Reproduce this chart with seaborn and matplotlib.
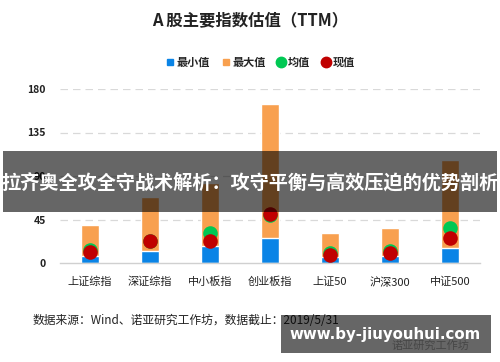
import matplotlib
matplotlib.use("Agg")
import matplotlib.pyplot as plt
import seaborn as sns
import pandas as pd
from matplotlib.lines import Line2D
from matplotlib.patches import Rectangle

categories = ["上证综指", "深证综指", "中小板指", "创业板指", "上证50", "沪深300", "中证500"]
min_vals = [7.5, 12.4, 17.6, 26.0, 6.5, 7.5, 15.2]
max_vals = [39.3, 68.0, 82.7, 164.4, 30.7, 35.8, 106.5]
mean_vals = [13.5, 23.0, 31.0, 50.0, 10.0, 12.0, 36.5]
now_vals = [11.5, 22.7, 22.7, 51.0, 8.0, 10.7, 25.5]
yticks = [0, 45, 90, 135, 180]

title = "A 股主要指数估值（TTM）"
source = "数据来源：Wind、诺亚研究工作坊，数据截止：2019/5/31"
banner = "拉齐奥全攻全守战术解析：攻守平衡与高效压迫的优势剖析"
watermark = "www.by-jiuyouhui.com"
logo = "诺亚研究工作坊"

C_MIN = "#0a84e6"
C_MAX = "#f8a04f"
C_MEAN = "#00c853"
C_NOW = "#c00000"

sns.set_theme(style="white")
plt.rcParams["font.family"] = ["Noto Sans CJK SC", "DejaVu Sans"]

df = pd.DataFrame({"cat": categories, "min": min_vals, "max": max_vals,
                   "mean": mean_vals, "now": now_vals})

fig = plt.figure(figsize=(5, 3.62), dpi=100)
ax = fig.add_axes([0.12, 1 - 263 / 362, 0.84, (263 - 89) / 362])

sns.barplot(data=df, x="cat", y="max", order=categories, color=C_MAX,
            width=0.31, ax=ax, saturation=1)
sns.barplot(data=df, x="cat", y="min", order=categories, color=C_MIN,
            width=0.31, ax=ax, saturation=1)
sns.scatterplot(data=df, x="cat", y="mean", color=C_MEAN, s=110,
                linewidth=0, ax=ax, zorder=4)
sns.scatterplot(data=df, x="cat", y="now", color=C_NOW, s=110,
                linewidth=0, ax=ax, zorder=5)

ax.set_ylim(0, 180)
ax.set_xlim(-0.5, len(categories) - 0.5)
ax.set_yticks(yticks)
ax.set_yticklabels([str(v) for v in yticks], fontsize=7.5, fontweight="bold",
                   color="#222222")
ax.set_xticks(range(len(categories)))
ax.set_xticklabels(categories, fontsize=8, color="#222222")
ax.set_xlabel("")
ax.set_ylabel("")
ax.tick_params(axis="both", length=0)
ax.tick_params(axis="y", pad=10)
ax.tick_params(axis="x", pad=10)
for v in yticks[1:]:
    ax.axhline(v, color="#d9d9d9", lw=0.9, ls=(0, (6, 4)), zorder=0)
for s in ["top", "right", "left"]:
    ax.spines[s].set_visible(False)
ax.spines["bottom"].set_color("#d0d0d0")
ax.spines["bottom"].set_linewidth(1)

fig.text(0.5, 1 - 20 / 362, title, ha="center", va="center", fontsize=11.8,
         color="#222222", fontweight="semibold")

handles = [
    Line2D([], [], marker="s", ls="", color=C_MIN, markersize=5),
    Line2D([], [], marker="s", ls="", color=C_MAX, markersize=5),
    Line2D([], [], marker="o", ls="", color=C_MEAN, markersize=7.5),
    Line2D([], [], marker="o", ls="", color=C_NOW, markersize=7.5),
]
leg = fig.legend(handles, ["最小值", "最大值", "均值", "现值"], ncol=4,
                 loc="center", bbox_to_anchor=(0.52, 1 - 62 / 362),
                 frameon=False, handlelength=0.8, handletextpad=0.2,
                 columnspacing=1.0, prop={"size": 8, "weight": "bold"})

fig.text(33 / 500, 1 - 320 / 362, source, ha="left", va="center",
         fontsize=8.5, color="#222222", zorder=5)
fig.text(430 / 500, 1 - 345 / 362, logo, ha="center", va="center",
         fontsize=8, color="#b0b0b0", zorder=5)

# banner overlay
fig.patches.append(Rectangle((3 / 500, 1 - 212 / 362), 494 / 500, 61 / 362,
                             transform=fig.transFigure, facecolor="black",
                             alpha=0.6, edgecolor="none", zorder=10))
fig.text(0.5, 1 - 184 / 362, banner, ha="center", va="center", fontsize=13.8,
         color="white", fontweight="bold", zorder=11)

# watermark
fig.patches.append(Rectangle((281 / 500, 1 - 353 / 362), 210 / 500, 38 / 362,
                             transform=fig.transFigure, facecolor="black",
                             alpha=0.6, edgecolor="none", zorder=10))
fig.text(385 / 500, 1 - 335 / 362, watermark, ha="center", va="center",
         fontsize=10.8, color="white", fontweight="bold", zorder=11,
         family=["DejaVu Sans"])

fig.savefig("out.png", dpi=100)
